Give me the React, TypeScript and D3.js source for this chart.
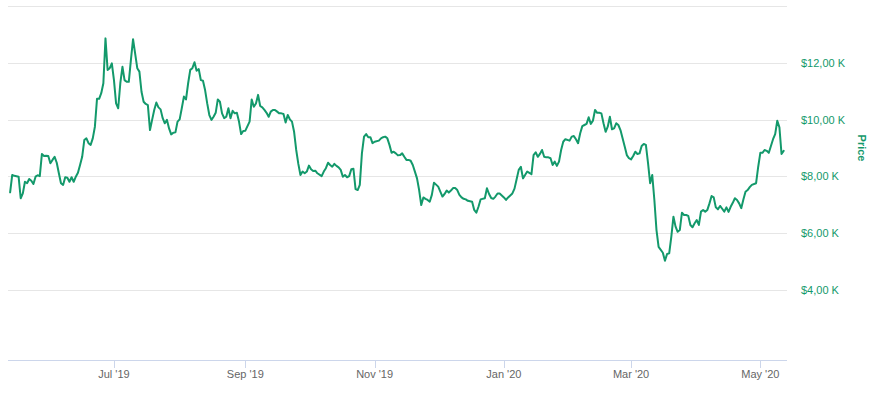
import React from "react";
import * as d3 from "d3";

// ---- Data ----
const dates: string[] = [
  // May 2019
  "2019-05-13","2019-05-14","2019-05-15","2019-05-17","2019-05-18","2019-05-19","2019-05-20","2019-05-21","2019-05-22","2019-05-23","2019-05-24","2019-05-25","2019-05-26","2019-05-27","2019-05-28","2019-05-29","2019-05-30","2019-05-31",
  // Jun 2019
  "2019-06-01","2019-06-02","2019-06-03","2019-06-04","2019-06-05","2019-06-06","2019-06-07","2019-06-08","2019-06-09","2019-06-10","2019-06-11","2019-06-12","2019-06-13","2019-06-14","2019-06-15","2019-06-16","2019-06-17","2019-06-18","2019-06-19","2019-06-20","2019-06-21","2019-06-22","2019-06-23","2019-06-24","2019-06-25","2019-06-26","2019-06-27","2019-06-28","2019-06-29","2019-06-30",
  // Jul 2019
  "2019-07-01","2019-07-02","2019-07-03","2019-07-04","2019-07-05","2019-07-06","2019-07-07","2019-07-08","2019-07-09","2019-07-10","2019-07-12","2019-07-13","2019-07-14","2019-07-15","2019-07-16","2019-07-17","2019-07-18","2019-07-19","2019-07-20","2019-07-21","2019-07-22","2019-07-23","2019-07-24","2019-07-25","2019-07-26","2019-07-27","2019-07-28","2019-07-29","2019-07-30","2019-07-31",
  // Aug 2019
  "2019-08-01","2019-08-02","2019-08-03","2019-08-04","2019-08-05","2019-08-06","2019-08-07","2019-08-08","2019-08-09","2019-08-10","2019-08-11","2019-08-12","2019-08-13","2019-08-14","2019-08-15","2019-08-16","2019-08-17","2019-08-18","2019-08-19","2019-08-20","2019-08-21","2019-08-22","2019-08-23","2019-08-24","2019-08-25","2019-08-26","2019-08-27","2019-08-28","2019-08-29","2019-08-30","2019-08-31",
  // Sep 2019
  "2019-09-01","2019-09-03","2019-09-04","2019-09-05","2019-09-06","2019-09-07","2019-09-08","2019-09-09","2019-09-10","2019-09-11","2019-09-12","2019-09-13","2019-09-14","2019-09-15","2019-09-16","2019-09-17","2019-09-18","2019-09-19","2019-09-20","2019-09-21","2019-09-22","2019-09-23","2019-09-24","2019-09-25","2019-09-26","2019-09-27","2019-09-28","2019-09-29","2019-09-30",
  // Oct 2019
  "2019-10-01","2019-10-02","2019-10-03","2019-10-04","2019-10-05","2019-10-07","2019-10-08","2019-10-09","2019-10-10","2019-10-11","2019-10-12","2019-10-13","2019-10-14","2019-10-15","2019-10-16","2019-10-17","2019-10-18","2019-10-19","2019-10-20","2019-10-21","2019-10-22","2019-10-23","2019-10-24","2019-10-25","2019-10-26","2019-10-27","2019-10-28","2019-10-29","2019-10-30","2019-10-31",
  // Nov 2019
  "2019-11-01","2019-11-03","2019-11-04","2019-11-05","2019-11-06","2019-11-07","2019-11-08","2019-11-09","2019-11-10","2019-11-11","2019-11-12","2019-11-13","2019-11-14","2019-11-15","2019-11-16","2019-11-17","2019-11-18","2019-11-19","2019-11-20","2019-11-21","2019-11-22","2019-11-23","2019-11-24","2019-11-25","2019-11-26","2019-11-27","2019-11-28","2019-11-29",
  // Dec 2019
  "2019-12-01","2019-12-02","2019-12-03","2019-12-04","2019-12-05","2019-12-06","2019-12-07","2019-12-08","2019-12-09","2019-12-10","2019-12-11","2019-12-12","2019-12-13","2019-12-14","2019-12-15","2019-12-17","2019-12-18","2019-12-19","2019-12-20","2019-12-21","2019-12-23","2019-12-24","2019-12-25","2019-12-26","2019-12-27","2019-12-28","2019-12-29","2019-12-30","2019-12-31",
  // Jan 2020
  "2020-01-01","2020-01-02","2020-01-03","2020-01-04","2020-01-05","2020-01-06","2020-01-07","2020-01-08","2020-01-09","2020-01-10","2020-01-11","2020-01-12","2020-01-14","2020-01-15","2020-01-16","2020-01-17","2020-01-18","2020-01-19","2020-01-20","2020-01-21","2020-01-22","2020-01-23","2020-01-24","2020-01-25","2020-01-26","2020-01-27","2020-01-28","2020-01-29","2020-01-30",
  // Feb 2020
  "2020-02-01","2020-02-02","2020-02-03","2020-02-04","2020-02-05","2020-02-06","2020-02-07","2020-02-08","2020-02-09","2020-02-10","2020-02-11","2020-02-12","2020-02-13","2020-02-14","2020-02-15","2020-02-16","2020-02-17","2020-02-18","2020-02-19","2020-02-20","2020-02-21","2020-02-22","2020-02-23","2020-02-24","2020-02-25","2020-02-26","2020-02-27","2020-02-28","2020-02-29",
  // Mar 2020
  "2020-03-01","2020-03-02","2020-03-03","2020-03-04","2020-03-05","2020-03-06","2020-03-07","2020-03-08","2020-03-09","2020-03-10","2020-03-11","2020-03-12","2020-03-13","2020-03-14","2020-03-16","2020-03-17","2020-03-18","2020-03-19","2020-03-20","2020-03-21","2020-03-22","2020-03-23","2020-03-24","2020-03-25","2020-03-26","2020-03-27","2020-03-28","2020-03-29","2020-03-30","2020-03-31",
  // Apr 2020
  "2020-04-01","2020-04-02","2020-04-03","2020-04-04","2020-04-05","2020-04-06","2020-04-07","2020-04-08","2020-04-09","2020-04-10","2020-04-11","2020-04-12","2020-04-13","2020-04-14","2020-04-15","2020-04-16","2020-04-17","2020-04-18","2020-04-19","2020-04-20","2020-04-21","2020-04-22","2020-04-23","2020-04-24","2020-04-25","2020-04-26","2020-04-27","2020-04-29","2020-04-30",
  // May 2020
  "2020-05-01","2020-05-02","2020-05-03","2020-05-04","2020-05-05","2020-05-06","2020-05-07","2020-05-08","2020-05-09","2020-05-10","2020-05-11","2020-05-12",
];

const prices: number[] = [
  // May 2019
  7440,8050,8020,7990,7230,7400,7810,7760,7910,7850,7730,7990,8040,8010,8790,8720,8730,8720,
  // Jun 2019
  8460,8580,8690,8480,8110,7760,7700,7970,7950,7810,7970,7810,7990,8130,8400,8690,9280,9340,9170,9110,9340,9750,10730,10730,10930,11280,12860,11750,11810,11980,
  // Jul 2019
  11390,10570,10400,11280,11860,11390,11330,11330,12100,12830,11810,11690,10980,10630,10550,10510,9630,9990,10340,10600,10430,10360,10050,9870,9990,9690,9480,9540,9550,9930,
  // Aug 2019
  10010,10400,10810,10710,11280,11750,11810,12020,11720,11780,11390,11370,11040,10570,10160,9990,10100,10240,10710,10630,10220,10050,10100,10400,10050,10310,10220,10240,9930,9490,9600,
  // Sep 2019
  9610,9930,10710,10450,10570,10870,10480,10430,10340,10240,10100,10280,10340,10340,10280,10220,10220,10200,9900,10160,10010,9930,9570,8930,8440,8050,8170,8110,8170,
  // Oct 2019
  8380,8250,8190,8200,8110,8010,8170,8290,8480,8400,8340,8440,8370,8320,8230,7990,8050,7970,8010,8250,8270,7550,7520,7700,8810,9400,9490,9380,9380,9170,
  // Nov 2019
  9220,9260,9340,9380,9400,9340,9110,8830,8870,8810,8740,8750,8810,8690,8580,8580,8550,8400,8170,7930,7520,6990,7260,7210,7170,7110,7350,7780,
  // Dec 2019
  7640,7460,7290,7380,7500,7430,7500,7590,7590,7520,7350,7260,7210,7190,7140,7110,6820,6720,6930,7190,7230,7580,7380,7240,7210,7290,7400,7400,7330,
  // Jan 2020
  7260,7170,7260,7330,7400,7570,7900,8230,8340,7930,8050,8170,8080,8750,8850,8690,8790,8930,8690,8670,8670,8640,8400,8520,8370,8520,8930,9220,9310,
  // Feb 2020
  9260,9400,9420,9310,9170,9520,9770,9810,9850,10080,9850,9960,10340,10240,10240,10220,9870,9570,9750,10100,9660,9690,9870,9810,9630,9340,9050,8750,8640,
  // Mar 2020
  8600,8720,8870,8790,8810,9070,9140,9110,8480,7760,8050,7170,6110,5520,5310,5030,5270,5290,5880,6580,6230,6050,6110,6720,6640,6640,6610,6290,6210,6350,
  // Apr 2020
  6460,6290,6760,6820,6760,6820,7050,7310,7260,6910,6840,6960,6860,6760,6910,6750,6930,7070,7230,7170,7050,6880,7190,7460,7520,7620,7700,7760,8340,
  // May 2020
  8830,8830,8930,8900,8830,9070,9310,9490,9960,9730,8790,8900,
];

const xDomain: string[] = ["2019-05-12 00", "2020-05-13 14"];
const xTickDates: string[] = ["2019-07-01", "2019-09-01", "2019-11-01", "2020-01-01", "2020-03-01", "2020-05-01"];
const yDomain: number[] = [1535, 14000];
const yGridValues: number[] = [4000, 6000, 8000, 10000, 12000, 14000];
const yLabelValues: number[] = [4000, 6000, 8000, 10000, 12000];
const yAxisTitle = "Price";

const GREEN = "#13996b";
const FONT = "'Liberation Sans', Arial, Helvetica, sans-serif";

export default function App() {
  const width = 880;
  const height = 396;
  const plotLeft = 8;
  const plotRight = 787;
  const plotTop = 6;
  const plotBottom = 360;

  const parseDay = d3.timeParse("%Y-%m-%d");
  const parseHour = d3.timeParse("%Y-%m-%d %H");

  const n = Math.min(dates.length, prices.length);
  const data = dates.slice(0, n).map((d, i) => ({ date: parseDay(d) as Date, price: prices[i] }));

  const x = d3
    .scaleTime()
    .domain([parseHour(xDomain[0]) as Date, parseHour(xDomain[1]) as Date])
    .range([plotLeft, plotRight]);
  const y = d3.scaleLinear().domain(yDomain).range([plotBottom, plotTop]);

  const line = d3
    .line<{ date: Date; price: number }>()
    .x((d) => x(d.date))
    .y((d) => y(d.price));

  const fmtTick = d3.timeFormat("%b '%y");
  const fmtPrice = (v: number) => `$${(v / 1000).toFixed(2).replace(".", ",")} K`;
  const crisp = (v: number) => Math.round(v) + 0.5;

  return (
    <svg
      width={width}
      height={height}
      style={{ position: "absolute", left: 0, top: 0, background: "#ffffff" }}
      fontFamily={FONT}
    >
      <rect x={0} y={0} width={width} height={height} fill="#ffffff" />
      {yGridValues.map((v) => (
        <line
          key={"g" + v}
          x1={plotLeft}
          x2={plotRight}
          y1={crisp(y(v))}
          y2={crisp(y(v))}
          stroke="#e6e6e6"
          strokeWidth={1}
        />
      ))}
      <line x1={plotLeft} x2={plotRight} y1={plotBottom + 0.5} y2={plotBottom + 0.5} stroke="#ccd6eb" strokeWidth={1} />
      {xTickDates.map((s) => {
        const d = parseDay(s) as Date;
        const px = crisp(x(d));
        return (
          <g key={s}>
            <line x1={px} x2={px} y1={plotBottom} y2={plotBottom + 8} stroke="#ccd6eb" strokeWidth={1} />
            <text x={x(d)} y={378} textAnchor="middle" fontSize={11} fill="#666666">
              {fmtTick(d)}
            </text>
          </g>
        );
      })}
      {yLabelValues.map((v) => (
        <text key={"l" + v} x={801} y={y(v) + 4} fontSize={11} fill={GREEN}>
          {fmtPrice(v)}
        </text>
      ))}
      <text
        transform="translate(858,148) rotate(90)"
        textAnchor="middle"
        fontSize={11}
        fontWeight="bold"
        fill={GREEN}
      >
        {yAxisTitle}
      </text>
      <path
        d={line(data) || ""}
        fill="none"
        stroke={GREEN}
        strokeWidth={2}
        strokeLinejoin="round"
        strokeLinecap="round"
      />
    </svg>
  );
}
